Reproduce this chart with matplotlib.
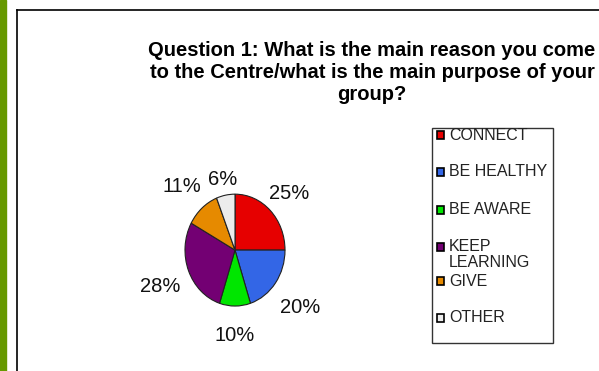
import numpy as np
import matplotlib
matplotlib.use("Agg")
import matplotlib.pyplot as plt
from matplotlib.patches import Rectangle
from matplotlib.lines import Line2D

title = "Question 1: What is the main reason you come\nto the Centre/what is the main purpose of your\ngroup?"
categories = ["CONNECT", "BE HEALTHY", "BE AWARE", "KEEP\nLEARNING", "GIVE", "OTHER"]
shares = [25, 20, 10, 28, 11, 6]
colors = ["#e60000", "#3366e6", "#00e600", "#730073", "#e68a00", "#ececec"]

fig = plt.figure(figsize=(5.99, 3.71), dpi=100)

# green strip and frame lines
fig.patches.append(Rectangle((0, 0), 6 / 599, 1, transform=fig.transFigure,
                             color="#669900", zorder=0))
fig.lines.append(Line2D([17 / 599, 17 / 599], [0, 1 - 10 / 371], color="black", lw=1.2,
                        transform=fig.transFigure))
fig.lines.append(Line2D([17 / 599, 1], [1 - 10 / 371, 1 - 10 / 371], color="black", lw=1.2,
                        transform=fig.transFigure))

fig.text(372 / 599, 1 - 72 / 371, title, ha="center", va="center", fontsize=14.5,
         fontweight="bold", family="Liberation Sans", linespacing=1.2)

# pie (a bit taller than wide, like the reference)
ax = fig.add_axes([155 / 599, 31.4 / 371, 160 / 599, 179 / 371])
wedges, texts, autotexts = ax.pie(shares, colors=colors, startangle=90, counterclock=False,
                                  autopct="%d%%", pctdistance=1.52,
                                  wedgeprops=dict(edgecolor="#222222", linewidth=0.8),
                                  textprops=dict(fontsize=14.5, family="Liberation Sans",
                                                 color="#111111"))
ax.set_aspect("auto")
ax.set_xlim(-1.6, 1.6)
ax.set_ylim(-1.6, 1.6)

# label distances differ a little per slice in the original
label_dist = [1.52, 1.62, 1.45, 1.6, 1.62, 1.36]
for w, t, d in zip(wedges, autotexts, label_dist):
    a = np.deg2rad((w.theta1 + w.theta2) / 2)
    t.set_position((d * np.cos(a), d * np.sin(a) - 0.07))

# legend box
fig.patches.append(Rectangle((432 / 599, 1 - 343 / 371), 121 / 599, 215 / 371,
                             transform=fig.transFigure, fill=False, edgecolor="#333333",
                             lw=1.0))
ys = [135, 172, 210, 247, 281, 318]
for cat, col, y in zip(categories, colors, ys):
    fig.patches.append(Rectangle((437 / 599, 1 - (y + 4) / 371), 7 / 599, 8 / 371,
                                 transform=fig.transFigure, facecolor=col,
                                 edgecolor="black", lw=1.2))
    fig.text(449 / 599, 1 - (y - 8) / 371 if "\n" in cat else 1 - y / 371, cat, ha="left",
             va="top" if "\n" in cat else "center",
             fontsize=11.5, family="Liberation Sans", color="#222222",
             linespacing=1.05)

fig.savefig("out.png", dpi=100)
